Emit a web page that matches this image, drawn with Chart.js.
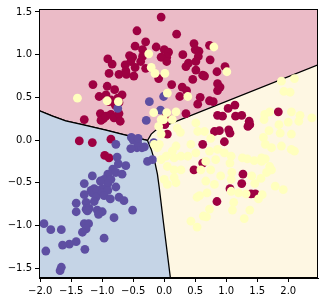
<!DOCTYPE html>
<html>
<head>
<meta charset="utf-8">
<script src="https://cdn.jsdelivr.net/npm/chart.js@4.4.1/dist/chart.umd.min.js"></script>
<style>
body{margin:0;background:#fff;}
</style>
</head>
<body>
<canvas id="regions" width="324" height="303"></canvas>
<script>
// class 0 (red), class 1 (yellow), class 2 (blue) points
var redPts = [[-0.05,1.44],[-0.44,1.28],[-0.47,1.10],[-0.30,1.15],[-0.13,1.09],[-0.56,0.99],[-0.51,0.97],[-0.91,0.95],[-0.84,0.89],[-0.63,0.88],[-0.54,0.92],[-0.47,0.85],[-0.89,0.78],[-0.73,0.77],[-0.62,0.81],[-0.61,0.77],[-0.49,0.75],[-1.15,0.65],[-0.92,0.63],[-0.80,0.59],[-1.05,0.51],[-0.94,0.53],[-0.68,0.53],[-0.86,0.47],[-0.75,0.49],
	[0.20,1.24],[-0.35,1.06],[0.00,1.06],[0.07,1.03],[0.04,0.97],[-0.05,0.97],[0.04,0.92],[0.48,1.13],[0.56,1.04],[0.50,1.06],[0.30,1.00],[0.55,0.98],[0.74,0.94],[0.51,0.92],[0.39,0.90],[0.35,0.86],[0.51,0.82],[0.62,0.76],[0.65,0.75],[0.85,0.80],[0.98,0.86],[0.46,0.71],[-0.35,0.98],[-0.38,0.92],[-0.30,0.84],[-0.09,0.72],[0.12,0.65],[0.29,0.62],[0.36,0.58],[0.86,0.66],[0.90,0.62],[0.86,0.58],[0.25,0.51],[0.58,0.50],[0.73,0.46],[0.79,0.45],[0.73,1.11],
	[-1.03,0.31],[-0.98,0.25],[-1.02,0.23],[-0.94,0.28],[-0.86,0.30],[-0.81,0.26],[-0.71,0.22],[-0.73,0.31],[-0.79,0.41],[-0.73,0.44],[-0.89,0.45],[-1.29,0.24],[-1.37,-0.01],[-1.16,-0.03],[-0.86,0.01],[-0.96,-0.18],[-0.89,-0.21],
	[0.03,0.28],[0.01,0.18],[0.05,0.07],[0.35,0.31],[0.54,0.42],[0.86,0.29],[0.94,0.28],[0.81,0.10],[0.89,0.11],[1.04,0.12],[0.97,-0.02],[0.62,-0.05],[0.62,-0.27],[0.48,-0.35],[1.06,-0.57],[1.14,0.41],[1.03,0.37],[1.15,0.28],[1.25,0.29],[1.37,0.22],[1.38,0.18],[1.35,0.16],[1.06,0.08],[1.84,0.33],[1.27,-0.40],[1.25,-0.51],[1.40,-0.63],[1.47,-0.63],[0.85,-0.72]]

var yellowPts = [[-1.40,0.49],[-0.25,1.01],[-0.21,0.85],[-0.15,0.78],[0.01,0.78],[-0.92,0.46],[-0.74,0.45],[-0.17,0.32],[0.04,0.32],[-0.09,0.16],[-0.01,0.24],[0.80,1.09],[1.01,0.80],[0.05,0.55],[0.38,0.51],[1.89,0.69],[2.10,0.72],[1.93,0.57],[2.03,0.56],[-0.05,0.24],[0.19,0.33],[0.13,0.24],[0.21,0.14],[-0.05,0.07],[0.51,0.20],[0.54,0.10],[0.65,0.10],[0.75,0.02],[0.26,0.09],
	[-0.16,-0.05],[-0.11,-0.09],[-0.08,-0.05],[0.19,-0.07],[0.03,-0.19],[-0.05,-0.23],[0.16,-0.21],[0.13,-0.13],[0.27,-0.19],[0.38,-0.19],[0.43,-0.05],[0.51,-0.15],[0.67,-0.25],[0.73,-0.13],[0.86,-0.11],[0.97,-0.15],[1.08,-0.19],[0.83,-0.23],[0.05,-0.31],[0.16,-0.35],[0.27,-0.35],[0.16,-0.44],[0.19,-0.50],[0.59,-0.35],[0.75,-0.35],[0.00,-0.46],[0.05,-0.52],[0.67,-0.48],[0.81,-0.52],[0.91,-0.42],[1.08,-0.46],
	[1.62,0.30],[1.70,0.33],[2.05,0.33],[2.19,0.29],[2.38,0.26],[1.61,0.24],[1.85,0.18],[2.00,0.21],[2.17,0.22],[1.69,0.11],[1.87,0.08],[2.05,0.07],[1.60,0.03],[1.63,-0.05],[1.73,-0.09],[1.89,-0.07],[2.05,-0.11],[2.10,-0.13],[1.26,-0.21],[1.34,-0.22],[1.45,-0.24],[1.57,-0.21],[1.63,-0.22],[1.57,-0.25],[1.06,-0.27],[1.70,-0.31],[1.73,-0.35],[1.65,-0.38],[1.56,-0.45],[1.41,-0.42],[1.09,-0.38],[1.46,-0.51],[1.79,-0.54],[1.92,-0.58],
	[0.53,-0.67],[0.57,-0.65],[0.69,-0.62],[1.08,-0.60],[1.20,-0.62],[1.32,-0.63],[1.58,-0.64],[1.52,-0.69],[1.12,-0.73],[1.10,-0.82],[1.38,-0.82],[0.73,-0.81],[0.63,-0.89],[0.68,-0.90],[0.43,-0.95],[0.53,-1.02],[1.29,-0.92]]

var bluePts = [[-0.24,0.45],[-0.01,0.51],[-0.06,0.35],[-0.29,0.23],[-0.75,0.37],[-0.78,-0.05],[-0.53,0.03],[-0.50,0.00],[-0.44,-0.09],[-0.36,-0.09],[-0.43,-0.03],[-0.54,-0.10],[-0.42,0.02],[-0.27,-0.25],[-0.19,-0.23],[-0.32,-0.08],[-0.17,-0.03],
	[-0.76,-0.20],[-0.62,-0.30],[-0.74,-0.28],[-0.83,-0.34],[-0.78,-0.38],[-0.91,-0.40],[-1.16,-0.42],[-0.97,-0.46],[-0.86,-0.46],[-0.78,-0.55],[-0.91,-0.51],[-1.00,-0.57],[-1.29,-0.51],[-1.13,-0.57],[-1.18,-0.59],[-0.68,-0.40],[-1.03,-0.48],
	[-1.29,-0.64],[-1.16,-0.62],[-1.08,-0.59],[-1.00,-0.62],[-0.91,-0.59],[-1.10,-0.67],[-0.97,-0.65],[-0.87,-0.69],[-0.73,-0.67],[-0.65,-0.71],[-1.42,-0.74],[-1.26,-0.73],[-1.13,-0.72],[-1.42,-0.84],[-1.26,-0.81],[-1.21,-0.80],[-1.24,-0.83],[-1.08,-0.82],[-1.00,-0.84],[-1.06,-0.87],[-0.51,-0.82],[-0.81,-0.91],
	[-1.94,-0.98],[-1.83,-1.05],[-1.66,-1.05],[-1.29,-0.98],[-1.22,-0.98],[-1.26,-1.04],[-1.32,-1.08],[-0.97,-1.15],[-1.42,-1.19],[-1.53,-1.22],[-1.64,-1.23],[-1.91,-1.30],[-1.28,-1.28],[-1.66,-1.49],[-1.68,-1.53]]

// decision boundaries
var redBlueEdge = [[-2.02,0.345],[-1.80,0.28],[-1.59,0.225],[-1.32,0.18],[-0.94,0.115],[-0.67,0.065],[-0.40,0.018],[-0.27,-0.005]]
var redYellowEdge = [[-0.27,-0.005],[-0.21,0.07],[-0.12,0.125],[-0.01,0.16],[2.48,0.88]]
var blueYellowEdge = [[-0.27,-0.005],[-0.21,-0.11],[-0.16,-0.23],[-0.11,-0.40],[-0.08,-0.56],[-0.01,-0.98],[0.10,-1.62]]

var xTicks = [-2.0,-1.5,-1.0,-0.5,0.0,0.5,1.0,1.5,2.0]
var yTicks = [-1.5,-1.0,-0.5,0.0,0.5,1.0,1.5]
var xRange = [-2.02, 2.48]
var yRange = [-1.616, 1.535]

function toXY(list){
	return list.map(function(p){ return {x:p[0], y:p[1]} })
}

function fmt(v){
	return v.toFixed(1).replace('-', '\u2212')
}

var bgPlugin = {
	id:'bgPlugin',
	beforeDatasetsDraw:function(chart){
		var a = chart.chartArea, ctx = chart.ctx
		ctx.save()
		ctx.fillStyle = 'rgb(254,247,227)'
		ctx.fillRect(a.left, a.top, a.right - a.left, a.bottom - a.top)
		ctx.restore()
	},
	afterDraw:function(chart){
		var a = chart.chartArea, ctx = chart.ctx
		ctx.save()
		ctx.strokeStyle = '#000'
		ctx.lineWidth = 1
		ctx.strokeRect(a.left + 0.5, a.top + 0.5, a.right - a.left - 1, a.bottom - a.top - 1)
		ctx.restore()
	}
}

var ctx = document.getElementById('regions').getContext('2d')
var chart = new Chart(ctx,{
	type:'scatter',
	data:{
		datasets:[{
			data:toXY(redBlueEdge.concat(redYellowEdge.slice(1))),
			showLine:true,
			fill:'end',
			backgroundColor:'rgb(235,187,199)',
			borderColor:'#000',
			borderWidth:1.3,
			pointRadius:0,
			order:10
		},{
			data:toXY(redBlueEdge.concat(blueYellowEdge.slice(1))),
			showLine:true,
			fill:'start',
			backgroundColor:'rgb(197,212,230)',
			borderColor:'#000',
			borderWidth:1.3,
			pointRadius:0,
			order:9
		},{
			data:toXY(redPts),
			backgroundColor:'#9E0142',
			borderWidth:0,
			pointRadius:4.4,
			order:3
		},{
			data:toXY(bluePts),
			backgroundColor:'#5E4FA2',
			borderWidth:0,
			pointRadius:4.4,
			order:2
		},{
			data:toXY(yellowPts),
			backgroundColor:'#FFFFBE',
			borderWidth:0,
			pointRadius:4.4,
			order:1
		}]
	},
	options:{
		responsive:false,
		animation:false,
		devicePixelRatio:1,
		layout:{padding:{left:0, top:7, right:6, bottom:0}},
		plugins:{
			legend:{display:false},
			tooltip:{enabled:false}
		},
		scales:{
			x:{
				min:xRange[0],
				max:xRange[1],
				afterBuildTicks:function(s){ s.ticks = xTicks.map(function(v){ return {value:v} }) },
				afterFit:function(s){ s.height = 25 },
				grid:{drawOnChartArea:false, drawTicks:true, tickLength:4, color:'#000'},
				border:{display:true, color:'#000'},
				ticks:{
					padding:3,
					maxRotation:0,
					autoSkip:false,
					color:'#000',
					font:{family:'DejaVu Sans', size:10},
					callback:function(v){ return fmt(v) }
				}
			},
			y:{
				min:yRange[0],
				max:yRange[1],
				afterBuildTicks:function(s){ s.ticks = yTicks.map(function(v){ return {value:v} }) },
				afterFit:function(s){ s.width = 39 },
				grid:{drawOnChartArea:false, drawTicks:true, tickLength:4, color:'#000'},
				border:{display:true, color:'#000'},
				ticks:{
					padding:3,
					autoSkip:false,
					color:'#000',
					font:{family:'DejaVu Sans', size:10},
					callback:function(v){ return fmt(v) }
				}
			}
		}
	},
	plugins:[bgPlugin]
})
</script>
</body>
</html>
